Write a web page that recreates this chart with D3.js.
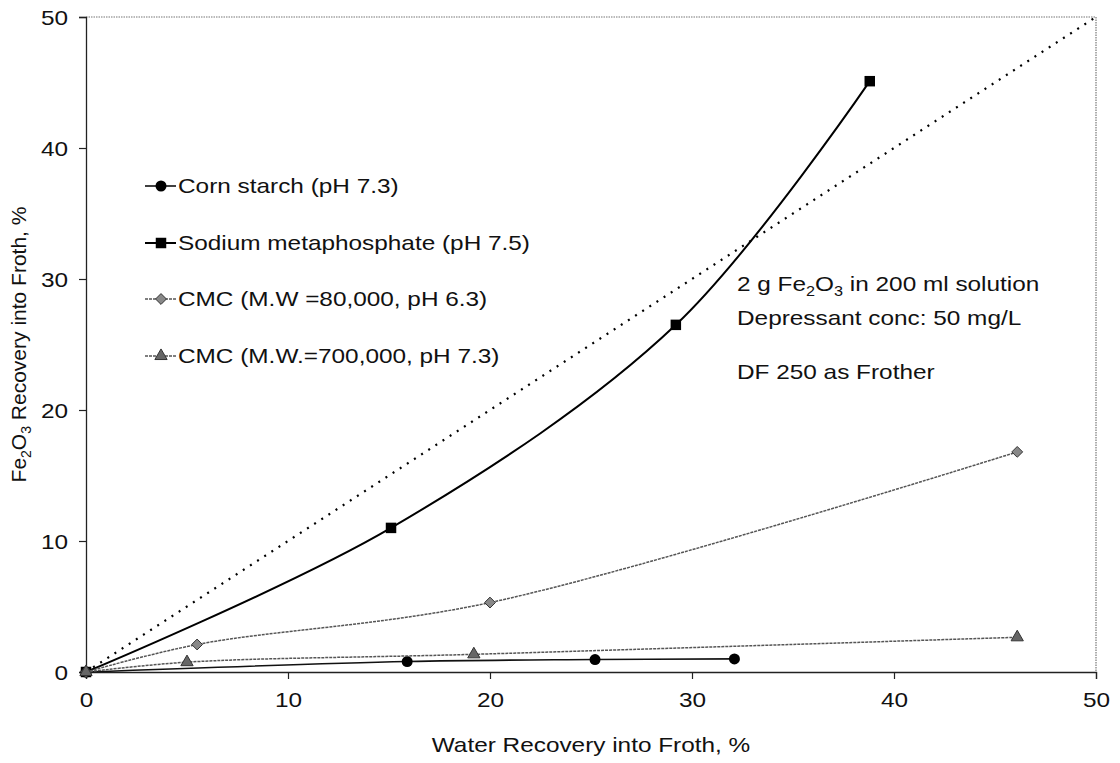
<!DOCTYPE html>
<html>
<head>
<meta charset="utf-8">
<script src="https://cdn.jsdelivr.net/npm/d3@7"></script>
<style>
  body { margin: 0; background: #fff; }
  svg { font-family: "Liberation Sans", Arial, sans-serif; }
</style>
</head>
<body>
<svg id="chart" width="1120" height="763"></svg>
<script>
// data
const cornStarch = [[0, 0], [15.9, 0.8], [25.2, 0.95], [32.1, 1.0]];
const sodiumMeta = [[0, 0], [15.1, 11.0], [29.2, 26.5], [38.8, 45.1]];
const cmc80k = [[0, 0], [5.5, 2.1], [20.0, 5.3], [46.1, 16.8]];
const cmc700k = [[0, 0], [5.0, 0.75], [19.2, 1.35], [46.1, 2.65]];
const seriesNames = ['Corn starch (pH 7.3)', 'Sodium metaphosphate (pH 7.5)', 'CMC (M.W =80,000, pH 6.3)', 'CMC (M.W.=700,000, pH 7.3)'];
const xTicks = [0, 10, 20, 30, 40, 50];
const yTicks = [0, 10, 20, 30, 40, 50];

const svg = d3.select('#chart');
const plotL = 86, plotR = 1096, plotT = 17, plotB = 672;
const FS = '21px';
const SX = 1.16; // the original text is a bit wide

const x = d3.scaleLinear().domain([0, 50]).range([plotL, plotR]);
const y = d3.scaleLinear().domain([0, 50]).range([plotB, plotT]);

// put a wide text at (tx, ty)
function wideText(parent, tx, ty, anchor) {
  return parent.append('text')
    .attr('transform', `translate(${tx},${ty}) scale(${SX},1)`)
    .attr('text-anchor', anchor || 'start')
    .style('font-size', FS)
    .attr('fill', '#111');
}

// dotted frame top / right
svg.append('line')
  .attr('x1', plotL).attr('x2', plotR).attr('y1', plotT).attr('y2', plotT)
  .attr('stroke', '#777').attr('stroke-width', 1.2).attr('stroke-dasharray', '1.5,1');
svg.append('line')
  .attr('x1', plotR).attr('x2', plotR).attr('y1', plotT).attr('y2', plotB)
  .attr('stroke', '#777').attr('stroke-width', 1.2).attr('stroke-dasharray', '1.5,1');

// axes
const xAxis = svg.append('g')
  .attr('transform', `translate(0,${plotB})`)
  .call(d3.axisBottom(x).tickValues(xTicks).tickSize(7));
const yAxis = svg.append('g')
  .attr('transform', `translate(${plotL},0)`)
  .call(d3.axisLeft(y).tickValues(yTicks).tickSize(7));

[xAxis, yAxis].forEach(ax => {
  ax.select('.domain').attr('stroke', '#222').attr('stroke-width', 1.3);
  ax.selectAll('.tick line').attr('stroke', '#222').attr('stroke-width', 1.2);
  ax.selectAll('.tick text')
    .attr('fill', '#111')
    .attr('x', 0).attr('y', 0).attr('dy', null)
    .style('font-size', FS)
    .style('font-family', '"Liberation Sans", Arial, sans-serif');
});
xAxis.selectAll('.tick text').attr('transform', `translate(0,35) scale(${SX},1)`);
yAxis.selectAll('.tick text').attr('transform', `translate(-18,7) scale(${SX},1)`);

// axis titles
wideText(svg, (plotL + plotR) / 2, 752, 'middle').text('Water Recovery into Froth, %');

const yTitle = svg.append('text')
  .attr('transform', `translate(26,${(plotT + plotB) / 2}) rotate(-90)`)
  .attr('text-anchor', 'middle')
  .style('font-size', FS).attr('fill', '#111');
yTitle.append('tspan').text('Fe');
yTitle.append('tspan').text('2').attr('dy', 5).style('font-size', '14px');
yTitle.append('tspan').text('O').attr('dy', -5);
yTitle.append('tspan').text('3').attr('dy', 5).style('font-size', '14px');
yTitle.append('tspan').text(' Recovery into Froth, %').attr('dy', -5);

// y = x reference line
svg.append('line')
  .attr('x1', x(0)).attr('y1', y(0)).attr('x2', x(50)).attr('y2', y(50))
  .attr('stroke', '#000').attr('stroke-width', 2.2)
  .attr('stroke-dasharray', '2,6.5');

// series
const line = d3.line()
  .x(d => x(d[0])).y(d => y(d[1]))
  .curve(d3.curveCatmullRom.alpha(0.5));

const styles = [
  { data: cornStarch, stroke: '#111', width: 1.6, dash: null, marker: 'circle', fill: '#000' },
  { data: sodiumMeta, stroke: '#000', width: 2, dash: null, marker: 'square', fill: '#000' },
  { data: cmc80k, stroke: '#555', width: 1.5, dash: '3,1', marker: 'diamond', fill: '#888' },
  { data: cmc700k, stroke: '#555', width: 1.5, dash: '3,1', marker: 'triangle', fill: '#666' }
];

const symbolFor = {
  circle: d3.symbol().type(d3.symbolCircle).size(95),
  square: d3.symbol().type(d3.symbolSquare).size(110),
  diamond: d3.symbol().type(d3.symbolDiamond2).size(75),
  triangle: d3.symbol().type(d3.symbolTriangle).size(65)
};

styles.forEach(s => {
  svg.append('path')
    .datum(s.data)
    .attr('d', line)
    .attr('fill', 'none')
    .attr('stroke', s.stroke)
    .attr('stroke-width', s.width)
    .attr('stroke-dasharray', s.dash);

  svg.selectAll(null)
    .data(s.data)
    .enter()
    .append('path')
    .attr('transform', d => `translate(${x(d[0])},${y(d[1])})`)
    .attr('d', symbolFor[s.marker])
    .attr('fill', s.fill)
    .attr('stroke', s.marker === 'diamond' || s.marker === 'triangle' ? '#333' : 'none')
    .attr('stroke-width', 1);
});

// legend
const legendY = [186, 243, 299, 356];
const legend = svg.append('g');
styles.forEach((s, i) => {
  const ly = legendY[i];
  legend.append('line')
    .attr('x1', 145).attr('x2', 176).attr('y1', ly).attr('y2', ly)
    .attr('stroke', s.stroke).attr('stroke-width', s.width)
    .attr('stroke-dasharray', s.dash);
  legend.append('path')
    .attr('transform', `translate(161,${ly})`)
    .attr('d', symbolFor[s.marker])
    .attr('fill', s.fill)
    .attr('stroke', s.marker === 'diamond' || s.marker === 'triangle' ? '#333' : 'none');
  wideText(legend, 178, ly + 7).text(seriesNames[i]);
});

// annotation
const note1 = wideText(svg, 737, 291);
note1.append('tspan').text('2 g Fe');
note1.append('tspan').text('2').attr('dy', 5).style('font-size', '14px');
note1.append('tspan').text('O').attr('dy', -5);
note1.append('tspan').text('3').attr('dy', 5).style('font-size', '14px');
note1.append('tspan').text(' in 200 ml solution').attr('dy', -5);

wideText(svg, 737, 325).text('Depressant conc: 50 mg/L');
wideText(svg, 737, 379).text('DF 250 as Frother');
</script>
</body>
</html>
